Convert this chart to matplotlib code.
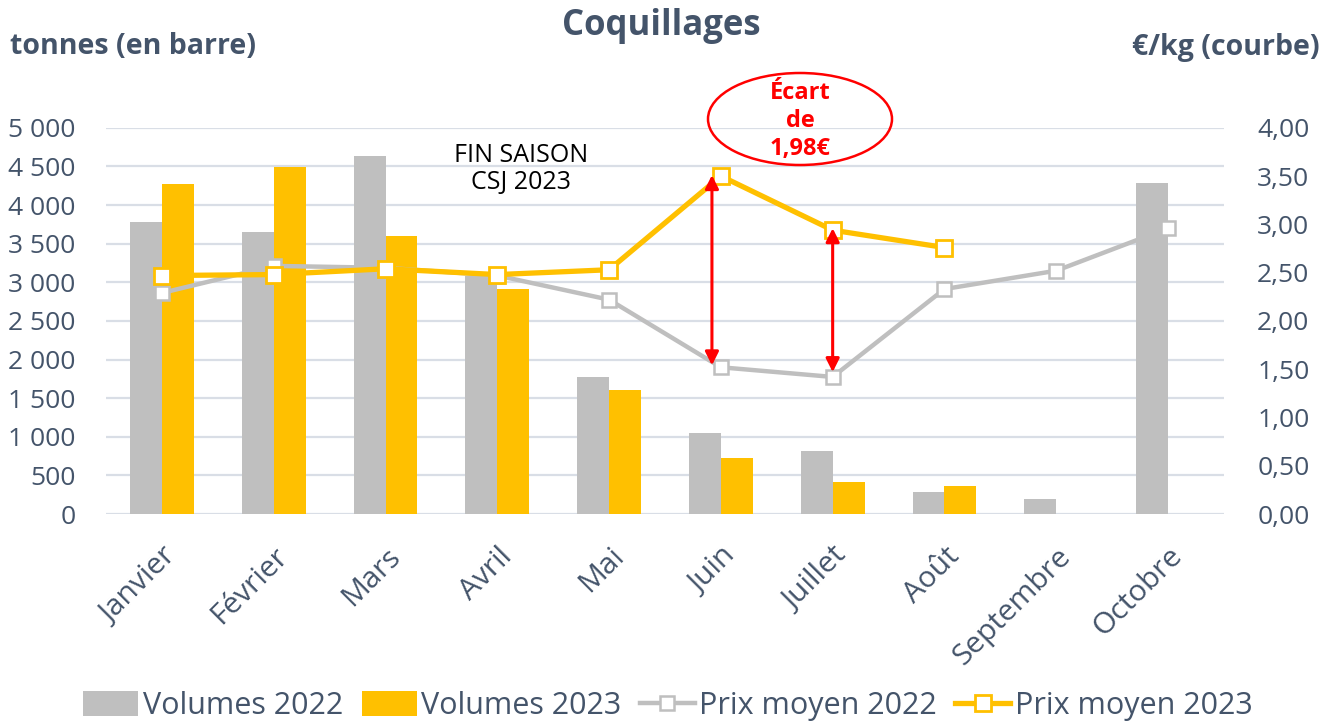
import matplotlib
matplotlib.use("Agg")
import matplotlib.pyplot as plt
from matplotlib.patches import Ellipse, Patch
from matplotlib.lines import Line2D
import numpy as np

months = ["Janvier", "Février", "Mars", "Avril", "Mai", "Juin", "Juillet", "Août", "Septembre", "Octobre"]
vol_2022 = [3785, 3645, 4640, 3080, 1780, 1055, 815, 290, 200, 4290]
vol_2023 = [4275, 4490, 3605, 2915, 1605, 730, 420, 365, np.nan, np.nan]
prix_2022 = [2.29, 2.57, 2.55, 2.47, 2.22, 1.52, 1.42, 2.33, 2.52, 2.96]
prix_2023 = [2.47, 2.48, 2.54, 2.48, 2.53, 3.50, 2.94, 2.76, np.nan, np.nan]
left_ticks = [0, 500, 1000, 1500, 2000, 2500, 3000, 3500, 4000, 4500, 5000]
right_ticks = [0, 0.5, 1.0, 1.5, 2.0, 2.5, 3.0, 3.5, 4.0]
ecart_label = "Écart\nde\n1,98€"

GRAY = "#BFBFBF"
YELLOW = "#FFC000"
TXT = "#44546A"
GRID = "#D9DEE6"
FONT = ["Open Sans", "DejaVu Sans"]
plt.rcParams["font.family"] = FONT

fig = plt.figure(figsize=(13.26, 7.22), dpi=100)
ax = fig.add_axes([0.080, 0.288, 0.843, 0.535])
ax2 = ax.twinx()
ax2.set_position([0.080, 0.288, 0.843, 0.535])

x = np.arange(len(months))
w = 0.285
ax.bar(x - w / 2, vol_2022, width=w, color=GRAY, zorder=2)
ax.bar(x + w / 2, vol_2023, width=w, color=YELLOW, zorder=2)
ax.set_ylim(0, 5000)
ax.set_xlim(-0.5, len(months) - 0.5)
ax.set_yticks(left_ticks)
ax.set_yticklabels([f"{v:,}".replace(",", " ") for v in left_ticks])
ax.yaxis.grid(True, color=GRID, linewidth=1.6, zorder=0)
ax.set_axisbelow(True)
for s in ax.spines.values():
    s.set_visible(False)
for s in ax2.spines.values():
    s.set_visible(False)
ax.tick_params(axis="y", length=0, labelsize=19, labelcolor=TXT, pad=22)
ax.set_xticks(x)
ax.set_xticklabels(months, rotation=45, ha="right", rotation_mode="anchor")
ax.tick_params(axis="x", length=0, labelsize=21.5, labelcolor=TXT, pad=20)

ax2.plot(x, prix_2022, color=GRAY, linewidth=3.2, marker="s", markersize=10,
         markerfacecolor="white", markeredgecolor=GRAY, markeredgewidth=1.8, zorder=3)
ax2.plot(x, prix_2023, color=YELLOW, linewidth=3.8, marker="s", markersize=12,
         markerfacecolor="white", markeredgecolor=YELLOW, markeredgewidth=2.0, zorder=4)
ax2.set_ylim(0, 4)
ax2.set_yticks(right_ticks)
ax2.set_yticklabels([f"{v:.2f}".replace(".", ",") for v in right_ticks])
ax2.tick_params(axis="y", length=0, labelsize=19, labelcolor=TXT, pad=24)

# red double arrows
arrow_kw = dict(arrowstyle="<|-|>", color="#FF0000", lw=2.2, mutation_scale=20,
                shrinkA=0, shrinkB=0)
ax2.annotate("", xy=(4.92, 3.51), xytext=(4.92, 1.54), arrowprops=arrow_kw, zorder=6)
ax2.annotate("", xy=(6.0, 2.96), xytext=(6.0, 1.47), arrowprops=arrow_kw, zorder=6)

# ellipse + label
ell = Ellipse((800, 722 - 119), 184, 92, transform=None, fill=False,
              edgecolor="#FF0000", linewidth=1.8, zorder=7)
fig.add_artist(ell)
fig.text(800 / 1326, 1 - 121 / 722, ecart_label, ha="center", va="center",
         color="#FF0000", fontsize=17, fontweight="bold", linespacing=1.24)

fig.text(521 / 1326, 1 - 169 / 722, "FIN SAISON\nCSJ 2023", ha="center", va="center",
         color="black", fontsize=18, linespacing=1.12)

fig.text(661 / 1326, 1 - 26 / 722, "Coquillages", ha="center", va="center",
         color=TXT, fontsize=25, fontweight="bold")
fig.text(10 / 1326, 1 - 47 / 722, "tonnes (en barre)", ha="left", va="center",
         color=TXT, fontsize=20.5, fontweight="bold")
fig.text(1320 / 1326, 1 - 47 / 722, "€/kg (courbe)", ha="right", va="center",
         color=TXT, fontsize=20.5, fontweight="bold")

handles = [
    Patch(facecolor=GRAY, edgecolor="none"),
    Patch(facecolor=YELLOW, edgecolor="none"),
    Line2D([0], [0], color=GRAY, lw=3.2, marker="s", markersize=10,
           markerfacecolor="white", markeredgecolor=GRAY, markeredgewidth=1.8),
    Line2D([0], [0], color=YELLOW, lw=3.8, marker="s", markersize=11,
           markerfacecolor="white", markeredgecolor=YELLOW, markeredgewidth=2.0),
]
labels = ["Volumes 2022", "Volumes 2023", "Prix moyen 2022", "Prix moyen 2023"]
leg = fig.legend(handles, labels, loc="center", bbox_to_anchor=(668 / 1326, 1 - 706 / 722),
                 ncol=4, frameon=False, fontsize=22, handlelength=1.8, handleheight=0.9,
                 handletextpad=0.15, columnspacing=0.6, labelcolor=TXT)

fig.savefig("out.png", dpi=100)
